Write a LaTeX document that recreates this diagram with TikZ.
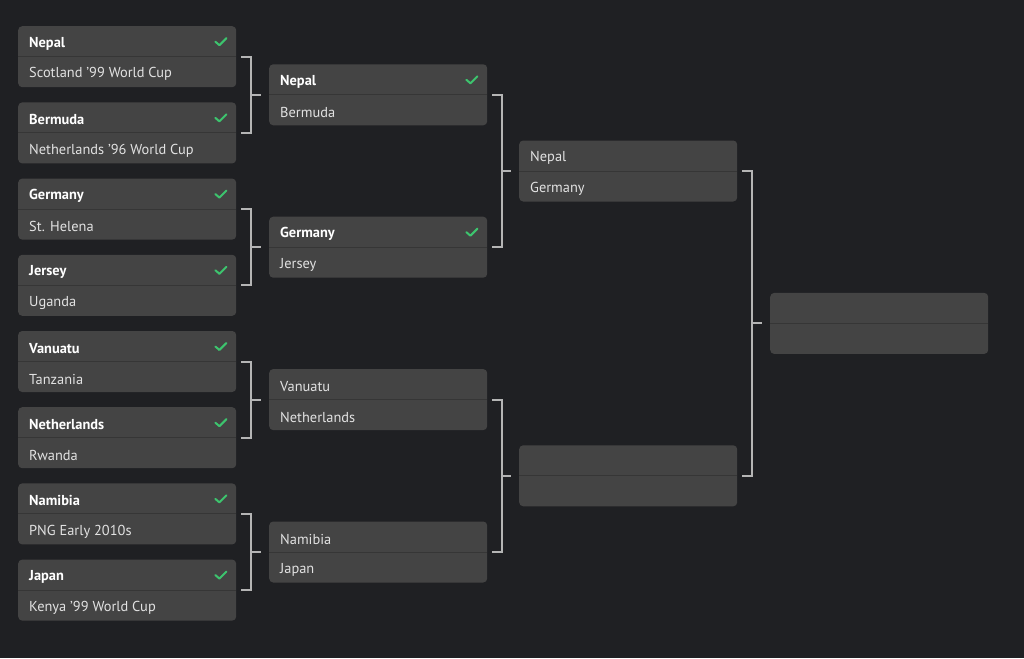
\documentclass[tikz,border=0pt]{standalone}
\usepackage{fontspec}
\setmainfont{PT Sans}
\definecolor{bg}{HTML}{1F2023}
\definecolor{boxfill}{HTML}{444444}
\definecolor{divline}{HTML}{363636}
\definecolor{txt}{HTML}{E2E2E2}
\definecolor{chk}{HTML}{3DC46E}
\definecolor{connc}{HTML}{B5B5B5}
\tikzset{
  match/.style={rectangle, rounded corners=4pt, fill=boxfill, minimum width=218pt, minimum height=61pt, inner sep=0pt},
  team/.style={anchor=west, text=txt, font=\fontsize{14.4}{16}\selectfont, inner sep=0pt},
  winner/.style={team, text=white, font=\fontsize{14.4}{16}\selectfont\bfseries},
  conn/.style={draw=connc, line width=2pt},
  divider/.style={draw=divline, line width=1pt},
  checkmk/.style={draw=chk, line width=2pt, line cap=round, line join=round}
}
\newcommand\Match[6]{%
  \node[match, anchor=north west] (#1) at (#2,#3) {};
  \draw[divider] (#1.west) -- (#1.east);
  \node[#4] (#1a) at ([xshift=11pt,yshift=13pt]#1.west) {#5};
  \node[team] (#1b) at ([xshift=11pt,yshift=-17.5pt]#1.west) {#6};
}
\newcommand\Chk[1]{%
  \draw[checkmk] ([xshift=-21pt,yshift=15pt]#1.east) -- ++(4,3.5) -- ++(7,-7);
}
\newcommand\Bracket[3]{%
  \draw[conn] ([xshift=5pt]#1.east) -- ++(10,0) |- ([xshift=5pt]#2.east);
  \draw[conn] ([xshift=-18pt]#3.west) -- ([xshift=-8pt]#3.west);
}
\begin{document}
\begin{tikzpicture}[x=1pt,y=-1pt]
\useasboundingbox[fill=bg] (0,0) rectangle (1024,658);
% round 1
\Match{a1}{18}{26}{winner}{Nepal}{Scotland '99 World Cup}\Chk{a1}
\Match{a2}{18}{102.2}{winner}{Bermuda}{Netherlands '96 World Cup}\Chk{a2}
\Match{a3}{18}{178.4}{winner}{Germany}{St. Helena}\Chk{a3}
\Match{a4}{18}{254.6}{winner}{Jersey}{Uganda}\Chk{a4}
\Match{a5}{18}{330.8}{winner}{Vanuatu}{Tanzania}\Chk{a5}
\Match{a6}{18}{407}{winner}{Netherlands}{Rwanda}\Chk{a6}
\Match{a7}{18}{483.2}{winner}{Namibia}{PNG Early 2010s}\Chk{a7}
\Match{a8}{18}{559.4}{winner}{Japan}{Kenya '99 World Cup}\Chk{a8}
% round 2
\Match{b1}{269}{64.1}{winner}{Nepal}{Bermuda}\Chk{b1}
\Match{b2}{269}{216.5}{winner}{Germany}{Jersey}\Chk{b2}
\Match{b3}{269}{368.9}{team}{Vanuatu}{Netherlands}
\Match{b4}{269}{521.3}{team}{Namibia}{Japan}
% round 3
\Match{c1}{519}{140.3}{team}{Nepal}{Germany}
\Match{c2}{519}{445.1}{team}{}{}
% round 4
\Match{d1}{770}{292.7}{team}{}{}
% connectors
\Bracket{a1}{a2}{b1}
\Bracket{a3}{a4}{b2}
\Bracket{a5}{a6}{b3}
\Bracket{a7}{a8}{b4}
\Bracket{b1}{b2}{c1}
\Bracket{b3}{b4}{c2}
\Bracket{c1}{c2}{d1}
\end{tikzpicture}
\end{document}
